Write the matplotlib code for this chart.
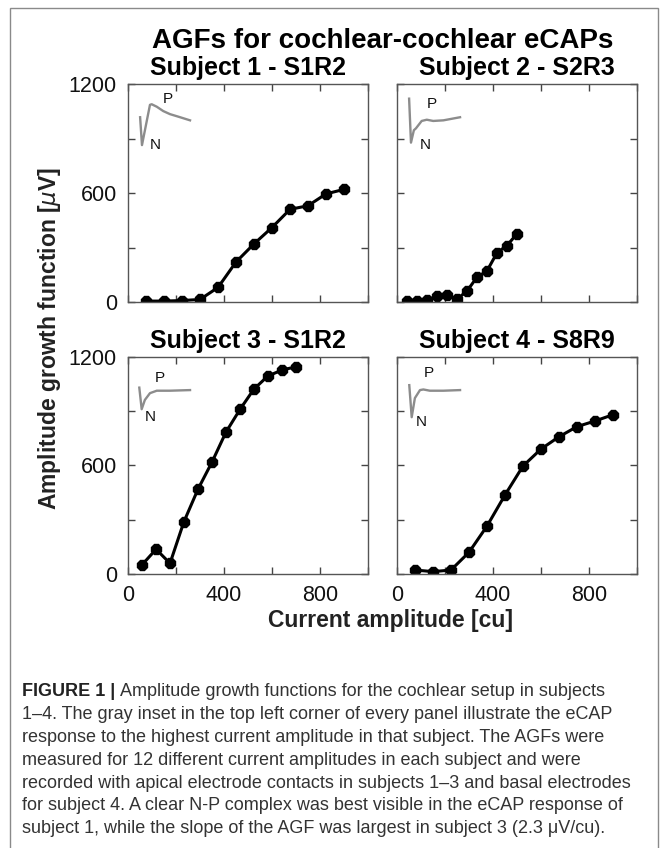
import matplotlib
matplotlib.use('Agg')
import matplotlib.pyplot as plt
from matplotlib.patches import Rectangle

plt.rcParams['font.family'] = ['Liberation Sans', 'DejaVu Sans']
plt.rcParams['mathtext.fontset'] = 'dejavusans'

# current amplitudes [cu] and AGF values [uV]
cu_s1 = [75, 150, 225, 300, 375, 450, 525, 600, 675, 750, 825, 900]
agf_s1 = [5, 5, 8, 14, 80, 220, 320, 410, 510, 530, 595, 620]
cu_s2 = [42, 83, 125, 167, 208, 250, 292, 333, 375, 417, 458, 500]
agf_s2 = [5, 8, 10, 33, 39, 15, 61, 136, 171, 272, 310, 376]
cu_s3 = [58, 117, 175, 233, 292, 350, 408, 467, 525, 583, 642, 700]
agf_s3 = [50, 137, 59, 289, 470, 619, 784, 911, 1023, 1095, 1128, 1146]
cu_s4 = [75, 150, 225, 300, 375, 450, 525, 600, 675, 750, 825, 900]
agf_s4 = [22, 13, 22, 120, 265, 437, 597, 691, 759, 815, 846, 881]

titles = ['Subject 1 - S1R2', 'Subject 2 - S2R3', 'Subject 3 - S1R2', 'Subject 4 - S8R9']

# eCAP insets (time [ms], normalised amplitude)
ecap_t = [
    [0.18, 0.235, 0.47, 0.52, 0.67, 0.86, 1.06, 1.30, 1.65],
    [0.18, 0.235, 0.32, 0.38, 0.55, 0.70, 0.89, 1.19, 1.68],
    [0.156, 0.226, 0.32, 0.47, 0.67, 1.06, 1.65],
    [0.185, 0.256, 0.35, 0.50, 0.60, 0.79, 1.19, 1.68],
]
ecap_v = [
    [0.53, 0.08, 0.73, 0.74, 0.70, 0.63, 0.58, 0.54, 0.48],
    [0.83, 0.12, 0.32, 0.35, 0.47, 0.49, 0.47, 0.48, 0.53],
    [0.57, 0.22, 0.37, 0.48, 0.52, 0.52, 0.53],
    [0.61, 0.09, 0.40, 0.53, 0.54, 0.52, 0.52, 0.53],
]
# where the P and N letters sit in each inset
p_pos = [(0.99, 0.82), (0.84, 0.74), (0.75, 0.72), (0.75, 0.81)]
n_pos = [(0.64, 0.08), (0.65, 0.08), (0.47, 0.09), (0.55, 0.02)]

caption = [
    'Amplitude growth functions for the cochlear setup in subjects',
    '1\u20134. The gray inset in the top left corner of every panel illustrate the eCAP',
    'response to the highest current amplitude in that subject. The AGFs were',
    'measured for 12 different current amplitudes in each subject and were',
    'recorded with apical electrode contacts in subjects 1\u20133 and basal electrodes',
    'for subject 4. A clear N-P complex was best visible in the eCAP response of',
    'subject 1, while the slope of the AGF was largest in subject 3 (2.3 \u03bcV/cu).',
]

W, H = 667, 848
fig = plt.figure(figsize=(W / 100, H / 100), dpi=100)

# frame around figure + caption
fig.add_artist(Rectangle((10 / W, -0.05), 648 / W, 1.05 - 8 / H, transform=fig.transFigure,
                         fill=False, edgecolor='#8a8a8a', lw=1.0))

lefts = [128, 397, 128, 397]
bottoms = [302, 302, 574, 574]
heights = [218, 218, 217, 217]
data = [(cu_s1, agf_s1), (cu_s2, agf_s2), (cu_s3, agf_s3), (cu_s4, agf_s4)]

for i in range(4):
    ax = fig.add_axes([lefts[i] / W, (H - bottoms[i]) / H, 240 / W, heights[i] / H])
    x, y = data[i]
    ax.plot(x, y, '-', color='black', lw=2.2, marker='8', ms=8, mfc='black', mec='black')
    ax.set_xlim(0, 1000)
    ax.set_ylim(0, 1200)
    ax.set_xticks([0, 200, 400, 600, 800, 1000])
    ax.set_yticks([0, 300, 600, 900, 1200])
    ax.set_xticklabels(['0', '', '400', '', '800', ''] if i >= 2 else [''] * 6)
    ax.set_yticklabels(['0', '', '600', '', '1200'] if i % 2 == 0 else [''] * 5)
    ax.tick_params(direction='in', length=5, width=1, color='#444444', top=True, right=True,
                   labelsize=15.5, labelcolor='#111111')
    ax.tick_params(axis='y', pad=8)
    ax.tick_params(axis='x', pad=8)
    for s in ax.spines.values():
        s.set_color('#555555')
        s.set_linewidth(1.0)
    ax.text(0.5, 1 + 9 / heights[i], titles[i], transform=ax.transAxes, ha='center', va='baseline',
            fontsize=18, fontweight='bold')

    ins = ax.inset_axes([0.025, 0.697, 0.283, 0.284])
    ins.plot(ecap_t[i], ecap_v[i], color='#8c8c8c', lw=1.7)
    ins.set_xlim(0, 2)
    ins.set_ylim(0, 1)
    ins.axis('off')
    ins.text(p_pos[i][0], p_pos[i][1], 'P', ha='center', va='center', fontsize=11, color='#111111')
    ins.text(n_pos[i][0], n_pos[i][1], 'N', ha='center', va='center', fontsize=11, color='#111111')

fig.text(383 / W, 1 - 48 / H, 'AGFs for cochlear-cochlear eCAPs', ha='center', va='baseline',
         fontsize=20, fontweight='bold')
fig.text(390 / W, 1 - 627 / H, 'Current amplitude [cu]', ha='center', va='baseline',
         fontsize=16.5, fontweight='bold', color='#222222')
fig.text(50 / W, 1 - 338 / H, r'Amplitude growth function [$\mu$V]', ha='center', va='center',
         rotation=90, fontsize=16.5, fontweight='bold', color='#222222')

# caption: bold label then regular text
fig.canvas.draw()
r = fig.canvas.get_renderer()
y0 = 692
bold = fig.text(22 / W, 1 - y0 / H, 'FIGURE 1 | ', ha='left', va='center', fontsize=13,
                fontweight='bold', color='#222222')
bb = bold.get_window_extent(renderer=r)
for k, line in enumerate(caption):
    xs = bb.x1 / W if k == 0 else 22 / W
    fig.text(xs, 1 - (y0 + 22.8 * k) / H, line, ha='left', va='center', fontsize=13, color='#333333')

fig.savefig('out.png', dpi=100)
